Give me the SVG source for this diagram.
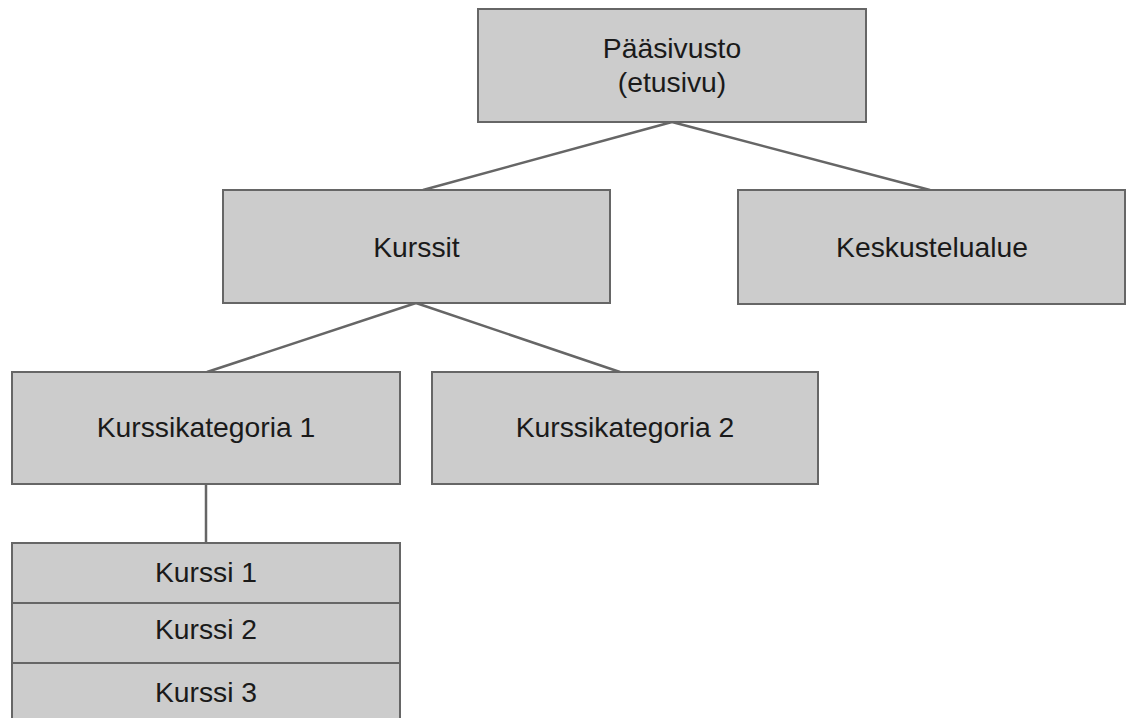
<svg xmlns="http://www.w3.org/2000/svg" width="1127" height="718" viewBox="0 0 1127 718">
<style>
.box{fill:#cccccc;stroke:#666666;stroke-width:2}
.lbl{font-family:"Liberation Sans",Arial,sans-serif;font-size:28.3px;fill:#1a1a1a;text-anchor:middle}
.conn{stroke:#666666;stroke-width:2.5;fill:none}
</style>
<rect width="1127" height="718" fill="#ffffff"/>
<g id="connectors">
<line class="conn" x1="672" y1="122" x2="423" y2="190"/>
<line class="conn" x1="672" y1="122" x2="930" y2="190"/>
<line class="conn" x1="416" y1="303" x2="207" y2="372"/>
<line class="conn" x1="416" y1="303" x2="620" y2="372"/>
<line class="conn" x1="206" y1="484" x2="206" y2="543"/>
</g>
<g id="paasivusto">
<rect class="box" x="478" y="9" width="388" height="113"/>
<text class="lbl" x="672" y="58">Pääsivusto</text>
<text class="lbl" x="672" y="92">(etusivu)</text>
</g>
<g id="kurssit">
<rect class="box" x="223" y="190" width="387" height="113"/>
<text class="lbl" x="416.5" y="257">Kurssit</text>
</g>
<g id="keskustelualue">
<rect class="box" x="738" y="190" width="387" height="114"/>
<text class="lbl" x="932" y="257">Keskustelualue</text>
</g>
<g id="kategoria1">
<rect class="box" x="12" y="372" width="388" height="112"/>
<text class="lbl" x="206" y="437">Kurssikategoria 1</text>
</g>
<g id="kategoria2">
<rect class="box" x="432" y="372" width="386" height="112"/>
<text class="lbl" x="625" y="437">Kurssikategoria 2</text>
</g>
<g id="kurssi1">
<rect class="box" x="12" y="543" width="388" height="60"/>
<text class="lbl" x="206" y="582">Kurssi 1</text>
</g>
<g id="kurssi2">
<rect class="box" x="12" y="603" width="388" height="60"/>
<text class="lbl" x="206" y="639">Kurssi 2</text>
</g>
<g id="kurssi3">
<rect class="box" x="12" y="663" width="388" height="70"/>
<text class="lbl" x="206" y="702">Kurssi 3</text>
</g>
</svg>
